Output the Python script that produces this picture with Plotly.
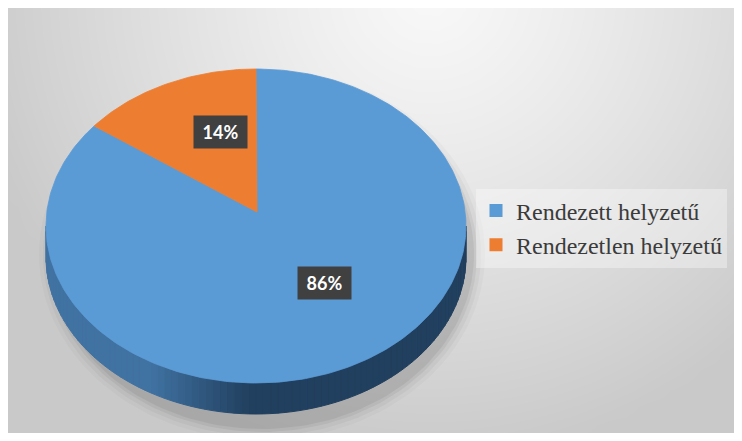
import numpy as np
import plotly.graph_objects as go

# ---- data ----
categories = ["Rendezett helyzetű", "Rendezetlen helyzetű"]
values = [86, 14]
pct_labels = ["86%", "14%"]

# ---- style / geometry (page pixels) ----
colors = ["#5b9bd5", "#ed7d31"]
W, H = 726, 425          # figure size (page has an 8px body margin)
OX, OY = 8, 8
CX, CY = 256, 226         # ellipse centre of the top face
RX, RY = 210, 157         # ellipse radii
VX, VY = 257, 212         # wedge apex (perspective)
DEPTH = 31                # thickness of the 3D side
label_frac = [(0.76, 0.50), (0.41, 0.56)]


def ept(theta_deg, dy=0.0):
    t = np.radians(theta_deg)
    return CX + RX * np.sin(t), CY - RY * np.cos(t) + dy


def hex2rgb(h):
    h = h.lstrip("#")
    return [int(h[i:i + 2], 16) for i in (0, 2, 4)]


def mix(c1, c2, t):
    a, b = hex2rgb(c1), hex2rgb(c2)
    return "rgb(%d,%d,%d)" % tuple(round(a[i] + (b[i] - a[i]) * t) for i in range(3))


fig = go.Figure()

# background gradient
gx = np.linspace(OX - 10, OX + W + 10, 40)
gy = np.linspace(OY - 10, OY + H + 10, 26)
GX, GY = np.meshgrid(gx, gy)
dist = np.hypot(GX - 430, GY + 10)
z = np.clip(dist / 470, 0, 1) ** 1.2
fig.add_trace(go.Heatmap(x=gx, y=gy, z=z, zmin=0, zmax=1,
                         colorscale=[[0, "#f8f8f8"], [1, "#c9c9c9"]],
                         zsmooth="best", showscale=False, hoverinfo="skip"))

# soft shadow (mostly right / below)
th = np.linspace(0, 360, 181)
for k, a in [(13, 0.025), (9, 0.035), (5, 0.05), (2, 0.06)]:
    sx = CX + 6 + (RX + k) * np.sin(np.radians(th))
    sy = CY + DEPTH / 2 + 13 - (RY + DEPTH / 2 + k) * np.cos(np.radians(th))
    fig.add_trace(go.Scatter(x=sx, y=sy, fill="toself", mode="lines",
                             line=dict(width=0), fillcolor="rgba(0,0,0,%.3f)" % a,
                             hoverinfo="skip", showlegend=False))

# 3D side (front half), shaded strips
N = 90
angs = np.linspace(90, 270, N + 1)
for i in range(N):
    a1, a2 = angs[i], angs[i + 1]
    x1, y1 = ept(a1)
    x2, y2 = ept(a2)
    x3, y3 = ept(a2, DEPTH)
    x4, y4 = ept(a1, DEPTH)
    xm = (x1 + x2) / 2
    t = float(np.clip((xm - 150) / 100, 0, 1))
    col = mix("#4072a2", "#213f5e", t)
    fig.add_trace(go.Scatter(x=[x1, x2, x3, x4, x1], y=[y1, y2, y3, y4, y1],
                             fill="toself", mode="lines", line=dict(width=1, color=col),
                             fillcolor=col, hoverinfo="skip", showlegend=False))

# top face wedges
total = sum(values)
start = 0.0
annotations = []
for i, (cat, v) in enumerate(zip(categories, values)):
    span = v / total * 360
    th = np.linspace(start, start + span, max(int(span), 2) + 1)
    px, py = ept(th)
    xs = np.concatenate([[VX], px, [VX]])
    ys = np.concatenate([[VY], py, [VY]])
    fig.add_trace(go.Scatter(x=xs, y=ys, fill="toself", mode="lines",
                             line=dict(width=0.8, color=colors[i]),
                             fillcolor=colors[i], hoverinfo="skip", showlegend=False))
    mid = np.radians(start + span / 2)
    fx, fy = label_frac[i]
    lx = VX + RX * fx * np.sin(mid)
    ly = VY - RY * fy * np.cos(mid)
    annotations.append(dict(x=lx, y=ly, xref="x", yref="y", text="<b>%s</b>" % pct_labels[i],
                            showarrow=False, bgcolor="#404040", width=51, height=30,
                            font=dict(family="Lato", size=18, color="white")))
    start += span

# legend entries
for cat, c in zip(categories, colors):
    fig.add_trace(go.Scatter(x=[None], y=[None], mode="markers", name=cat,
                             marker=dict(symbol="square", size=13, color=c)))

fig.update_layout(
    width=W, height=H,
    margin=dict(l=0, r=0, t=0, b=0, autoexpand=False),
    paper_bgcolor="#e0e0e0",
    plot_bgcolor="rgba(0,0,0,0)",
    xaxis=dict(range=[OX, OX + W], visible=False, fixedrange=True),
    yaxis=dict(range=[OY + H, OY], visible=False, fixedrange=True),
    showlegend=True,
    hovermode=False,
    legend=dict(x=(476 - OX) / W, y=1 - (228 - OY) / H, xanchor="left", yanchor="middle",
                bgcolor="rgba(255,255,255,0.35)",
                font=dict(family="Liberation Serif", size=24, color="#3b3b3b")),
    annotations=annotations,
)

fig.write_html("out.html")
